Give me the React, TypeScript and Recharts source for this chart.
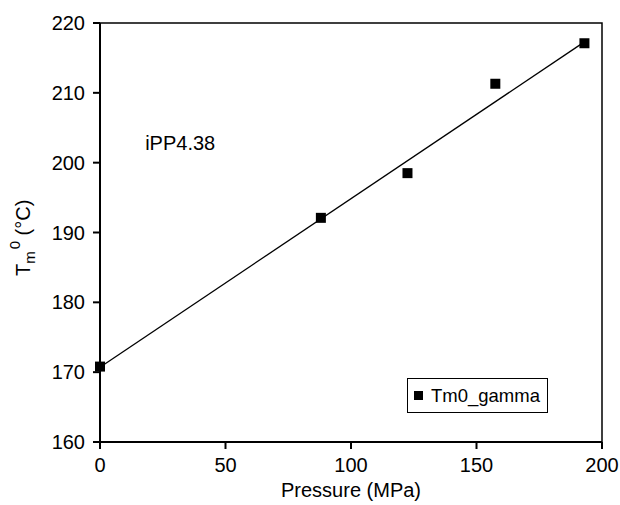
import * as React from "react"
import {
  ComposedChart,
  Scatter,
  XAxis,
  YAxis,
  ReferenceArea,
  ReferenceDot,
} from "recharts"

// measured points
const pressure = [0, 88, 122.5, 157.5, 193]
const tm0 = [170.8, 192.1, 198.5, 211.3, 217.1]

// fitted line as drawn in the figure (end points)
const fitPressure = [0, 193]
const fitTm0 = [170.7, 217.3]

const xTicks = [0, 50, 100, 150, 200]
const yTicks = [160, 170, 180, 190, 200, 210, 220]

const seriesName = "Tm0_gamma"

const points = pressure.map((x, i) => ({ x, y: tm0[i] }))
const fitLine = fitPressure.map((x, i) => ({ x, y: fitTm0[i] }))

const FONT = "'Liberation Sans', Arial, Helvetica, sans-serif"

const SquareDot = (props: any) => {
  const { cx, cy } = props
  if (cx == null || cy == null) return <g />
  return <rect x={cx - 5} y={cy - 5} width={10} height={10} fill="#000" />
}

const NoDot = () => <g />

// legend box sits inside the plot, lower right
const LegendBox = () => (
  <div
    style={{
      position: "absolute",
      left: 407,
      top: 378,
      width: 141,
      height: 35,
      border: "1px solid #000",
      background: "#fff",
      display: "flex",
      alignItems: "center",
      fontFamily: FONT,
      fontSize: 18.5,
      color: "#000",
      boxSizing: "border-box",
    }}
  >
    <span style={{ width: 9, height: 9, background: "#000", marginLeft: 6, marginRight: 8 }} />
    <span>{seriesName}</span>
  </div>
)

const YTitle = () => (
  <g transform="translate(30,276) rotate(-90)">
    <text x={0} y={0} fontFamily={FONT} fontSize={20} fill="#000" stroke="none">
      T
      <tspan dy={5} fontSize={15}>m</tspan>
      <tspan dy={-15} dx={2} fontSize={15}>0</tspan>
      <tspan dy={10} fontSize={20}> (°C)</tspan>
    </text>
  </g>
)

const Note = (props: any) => {
  const { viewBox } = props
  return (
    <text x={viewBox.x} y={viewBox.y} fontFamily={FONT} fontSize={20} fill="#000" stroke="none">
      iPP4.38
    </text>
  )
}

export default function App() {
  return (
    <div style={{ position: "absolute", left: 0, top: 0, width: 620, height: 505, background: "#fff" }}>
      <ComposedChart
        width={620}
        height={505}
        margin={{ top: 23, right: 18, bottom: 0, left: 0 }}
      >
        <XAxis
          type="number"
          dataKey="x"
          domain={[0, 200]}
          ticks={xTicks}
          tickSize={7}
          tickMargin={9}
          height={63}
          stroke="#000"
          strokeWidth={2}
          tick={{ fill: "#000", fontFamily: FONT, fontSize: 20 }}
          label={{ value: "Pressure (MPa)", position: "insideBottom", offset: 8, fill: "#000", fontFamily: FONT, fontSize: 20 }}
        />
        <YAxis
          type="number"
          dataKey="y"
          domain={[160, 220]}
          ticks={yTicks}
          tickSize={7}
          tickMargin={8}
          width={100}
          stroke="#000"
          strokeWidth={2}
          tick={{ fill: "#000", fontFamily: FONT, fontSize: 20 }}
          label={<YTitle />}
        />
        <ReferenceArea x1={0} x2={200} y1={160} y2={220} fill="none" stroke="#000" strokeWidth={1.5} ifOverflow="visible" />
        <ReferenceDot x={18} y={201.8} r={0} stroke="none" label={<Note />} />
        <Scatter
          data={fitLine}
          line={{ stroke: "#000", strokeWidth: 1.3 }}
          shape={NoDot}
          legendType="none"
          isAnimationActive={false}
        />
        <Scatter
          name={seriesName}
          data={points}
          shape={SquareDot}
          fill="#000"
          isAnimationActive={false}
        />
      </ComposedChart>
      <LegendBox />
    </div>
  )
}
